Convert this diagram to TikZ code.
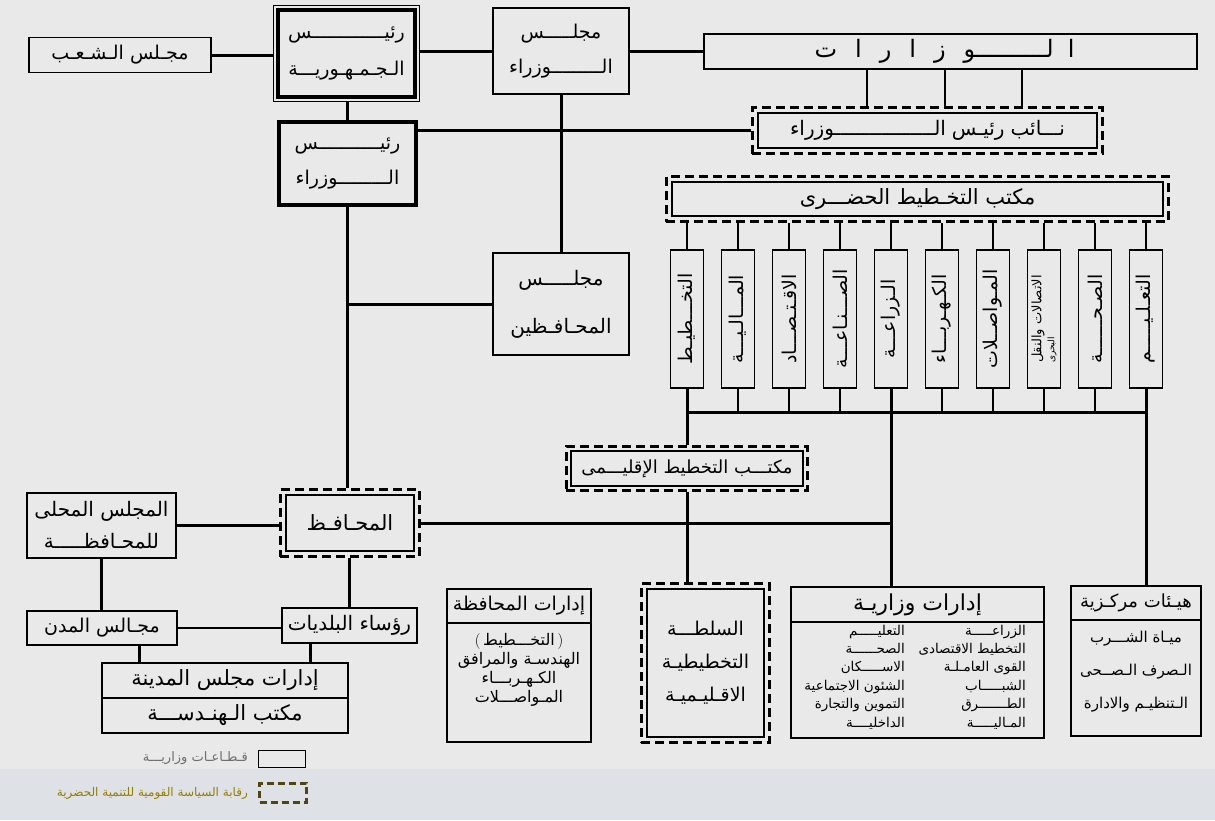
\documentclass[tikz,border=0pt]{standalone}
\usepackage{fontspec}
\usetikzlibrary{fit}

\newfontfamily\arabicfont[Script=Arabic]{DejaVu Sans}
\TeXXeTstate=1
\newcommand{\ar}[1]{{\arabicfont\beginR #1\endR}}

\definecolor{paper}{RGB}{233,233,233}
\definecolor{band}{RGB}{222,226,230}
\definecolor{legendgray}{RGB}{110,110,110}
\definecolor{goldtxt}{RGB}{150,126,0}
\definecolor{golddash}{RGB}{80,70,20}

\tikzset{
	box/.style={draw, line width=1.1pt, fill=paper, inner sep=0pt, align=center, font=\fontsize{19}{23}\selectfont},
	ctrl/.style={draw, line width=3pt, dash pattern=on 9pt off 5pt, inner sep=5pt},
	link/.style={line width=3pt},
	midlink/.style={line width=2pt},
	thinlink/.style={line width=1.2pt},
	listtxt/.style={inner sep=0pt, align=right, font=\fontsize{13.5}{18.4}\selectfont}
}

\begin{document}
\begin{tikzpicture}[x=1pt, y=-1pt]

	\fill [paper] (0,0) rectangle (1215,769);
	\fill [band] (0,769) rectangle (1215,820);
	\useasboundingbox (0,0) rectangle (1215,820);

	% top row
	\node [box, minimum width=182pt, minimum height=35pt] (shaab) at (120,55) {\ar{مجـلس الـشـعـب}};

	\node [box, line width=3.5pt, minimum width=137pt, minimum height=87pt] (raees) at (346.5,53.5) {\ar{رئيـــــــــــــس}\\[14pt]\ar{الـجـمـهـوريـــة}};
	\node [draw, line width=1pt, inner sep=3pt, fit=(raees)] (raeesframe) {};

	\node [box, minimum width=136pt, minimum height=86pt] (majwuzara) at (561,51) {\ar{مجلـــــس}\\[12pt]\ar{الـــــــــوزراء}};

	\node [box, minimum width=493pt, minimum height=35pt, font=\fontsize{24}{26}\selectfont] (wizarat) at (950.5,51.5) {\ar{ا\hspace{14pt}لــــــــــو\hspace{18pt}ز\hspace{18pt}ا\hspace{18pt}ر\hspace{18pt}ا\hspace{18pt}ت}\hspace{12pt}};

	\node [box, minimum width=339pt, minimum height=35pt, font=\fontsize{20}{22}\selectfont] (naib) at (927.5,130.5) {\ar{نـــائب\hspace{6pt}رئيـس\hspace{6pt}الـــــــــــــــــوزراء}};
	\node [ctrl, fit=(naib)] (naibframe) {};

	\node [box, line width=3.5pt, minimum width=137pt, minimum height=83pt] (raeswuzara) at (347.5,163.5) {\ar{رئيـــــــــــس}\\[12pt]\ar{الـــــــــوزراء}};

	\node [box, minimum width=491pt, minimum height=34pt, font=\fontsize{21}{23}\selectfont] (hadari) at (917.5,199) {\ar{مكتب التخـطيط الحضـــرى}};
	\node [ctrl, fit=(hadari)] (hadariframe) {};

	% ministries
	\foreach \txt [count=\i] in {التخـــطيـط, المـــالـيـــة, الاقـتـصـــاد, الصـــنـاعـــة, الـزراعـــة, الكـهـربـــاء, المـواصــلات, {\shortstack[r]{\fontsize{13}{13}\selectfont\ar{الاتصالات والنقل}\\\fontsize{9}{9}\selectfont\ar{البحرى}}}, الصـحــــــة, التعـلـيـــــم}
		\node [box, minimum width=33pt, minimum height=138pt] (v\i) at ({687+51*(\i-1)},319) {\rotatebox{90}{\ar{\txt}}};

	\coordinate (bar) at (687,412);

	\node [box, minimum width=136pt, minimum height=102pt, font=\fontsize{20}{24}\selectfont] (mohafezeen) at (561,304) {\ar{مجلـــــس}\\[24pt]\ar{المحـافـظين}};

	\node [box, minimum width=232pt, minimum height=35pt, font=\fontsize{18}{20}\selectfont] (iqlimi) at (687,468.5) {\ar{مكتـــب التخطيط الإقليـــمى}};
	\node [ctrl, inner sep=4pt, fit=(iqlimi)] (iqlimiframe) {};

	% governorate
	\node [box, minimum width=128pt, minimum height=56pt, font=\fontsize{21}{23}\selectfont] (mohafez) at (350,523) {\ar{المحـافـظ}};
	\node [ctrl, fit=(mohafez)] (mohafezframe) {};

	\node [box, minimum width=149pt, minimum height=65pt, font=\fontsize{20}{23}\selectfont] (mahalli) at (101.5,525.5) {\ar{المجلس المحلى}\\[9pt]\ar{للمحـافظـــــة}};

	\node [box, minimum width=135pt, minimum height=35pt, font=\fontsize{20}{22}\selectfont] (roasa) at (349.5,625.5) {\ar{رؤساء البلديات}};

	\node [box, minimum width=150pt, minimum height=34pt, font=\fontsize{19}{22}\selectfont] (mudun) at (102,628) {\ar{مجـالس المدن}};

	\node [box, minimum width=246pt, minimum height=35pt, font=\fontsize{21}{23}\selectfont] (madina) at (225,680.5) {\ar{إدارات مجلس المدينة}};
	\node [box, minimum width=246pt, minimum height=35pt, font=\fontsize{21}{23}\selectfont] (handasa) at (225,715.5) {\ar{مكتب الـهنـدســـة}};

	\node [box, minimum width=144pt, minimum height=34pt, font=\fontsize{19}{21}\selectfont] (idaratmhd) at (519,606) {\ar{إدارات المحافظة}};
	\node [box, minimum width=144pt, minimum height=119pt] (idaratbody) at (519,682.5) {};
	\node [inner sep=0pt, align=center, font=\fontsize{16}{19}\selectfont] (idaratlist) at (519,670) {(\,\ar{التخـــطيط}\,)\\\ar{الهندسـة والمرافق}\\\ar{الكـهـربـــاء}\\\ar{المـواصـــلات}};

	\node [box, minimum width=117pt, minimum height=148pt, font=\fontsize{19}{21}\selectfont] (sulta) at (705.5,663) {\ar{السلطـــة}\\[12pt]\ar{التخطيطيـة}\\[12pt]\ar{الاقـليـميـة}};
	\node [ctrl, fit=(sulta)] (sultaframe) {};

	\node [box, minimum width=253pt, minimum height=35pt, font=\fontsize{22}{24}\selectfont] (wizariya) at (917.5,604.5) {\ar{إدارات وزاريـة}};
	\node [box, minimum width=253pt, minimum height=116pt] (wizlist) at (917.5,680) {};
	\node [listtxt, anchor=east] (wizright) at (1026,677) {\ar{الزراعـــــة}\\\ar{التخطيط الاقتصادى}\\\ar{القوى العامـلـة}\\\ar{الشبـــــاب}\\\ar{الطـــــــرق}\\\ar{المـاليـــــة}};
	\node [listtxt, anchor=east] (wizleft) at (905,677) {\ar{التعليـــــم}\\\ar{الصحــــــة}\\\ar{الاســـــكان}\\\ar{الشئون الاجتماعية}\\\ar{التموين والتجارة}\\\ar{الداخليــــة}};

	\node [box, minimum width=130pt, minimum height=34pt, font=\fontsize{18}{20}\selectfont] (hayaat) at (1136,603) {\ar{هيـئات مركـزية}};
	\node [box, minimum width=130pt, minimum height=116pt] (hayaatbody) at (1136,678) {};
	\node [inner sep=0pt, align=center, font=\fontsize{15}{33}\selectfont] (hayaatlist) at (1136,672) {\ar{ميـاة الشـــرب}\\\ar{الـصرف الـصــحى}\\\ar{الـتنظيـم والادارة}};

	% connectors
	\draw [link] (shaab.east) -- (shaab.east -| raeesframe.west);
	\draw [link] (raeesframe.east |- majwuzara.west) -- (majwuzara.west);
	\draw [link] (majwuzara.east) -- (majwuzara.east -| wizarat.west);
	\draw [link] (raeswuzara.north |- raeesframe.south) -- (raeswuzara.north);
	\draw [link] (raeswuzara.east |- naibframe.west) -- (naibframe.west);
	\foreach \x in {867,945,1022}
		\draw [midlink] (\x,0 |- wizarat.south) -- (\x,0 |- naibframe.north);
	\draw [link] (majwuzara.south) -- (mohafezeen.north);
	\draw [link] (raeswuzara.south) -- (raeswuzara.south |- mohafezframe.north);
	\draw [link] (raeswuzara.south |- mohafezeen.west) -- (mohafezeen.west);

	\foreach \i in {1,...,10}
		\draw [midlink] (v\i.north) -- (v\i.north |- hadariframe.south);
	\foreach \i in {2,3,4,6,7,8,9}
		\draw [thinlink] (v\i.south) -- (v\i.south |- bar);
	\draw [link] (v1.south |- bar) -- (v10.south |- bar);
	\draw [link] (v1.south) -- (iqlimiframe.north);
	\draw [link] (iqlimiframe.south) -- (iqlimiframe.south |- sultaframe.north);
	\draw [link] (v5.south) -- (v5.south |- wizariya.north);
	\draw [link] (v10.south) -- (v10.south |- hayaat.north);
	\draw [link] (mohafezframe.east) -- (mohafezframe.east -| v5.south);

	\draw [link] (mahalli.east) -- (mahalli.east -| mohafezframe.west);
	\draw [link] (mohafezframe.south -| roasa.north) -- (roasa.north);
	\draw [link] (mahalli.south) -- (mahalli.south |- mudun.north);
	\draw [thinlink] (mudun.east) -- (mudun.east -| roasa.west);
	\draw [link] (139,0 |- mudun.south) -- (139,0 |- madina.north);
	\draw [link] (310,0 |- roasa.south) -- (310,0 |- madina.north);

	% legend
	\node [draw, line width=1pt, minimum width=47pt, minimum height=17pt, inner sep=0pt] (legbox) at (281.5,758.5) {};
	\node [anchor=east, text=legendgray, inner sep=0pt, font=\fontsize{13}{14}\selectfont] (legtxt) at (248,758) {\ar{قـطـاعـات وزاريـــة}};
	\node [draw=golddash, line width=3pt, dash pattern=on 7pt off 4pt, minimum width=47pt, minimum height=19pt, inner sep=0pt] (ctrlbox) at (283,792.5) {};
	\node [anchor=east, text=goldtxt, inner sep=0pt, font=\fontsize{12}{14}\selectfont] (ctrltxt) at (248,793) {\ar{رقابة السياسة القومية للتنمية الحضرية}};

\end{tikzpicture}
\end{document}
